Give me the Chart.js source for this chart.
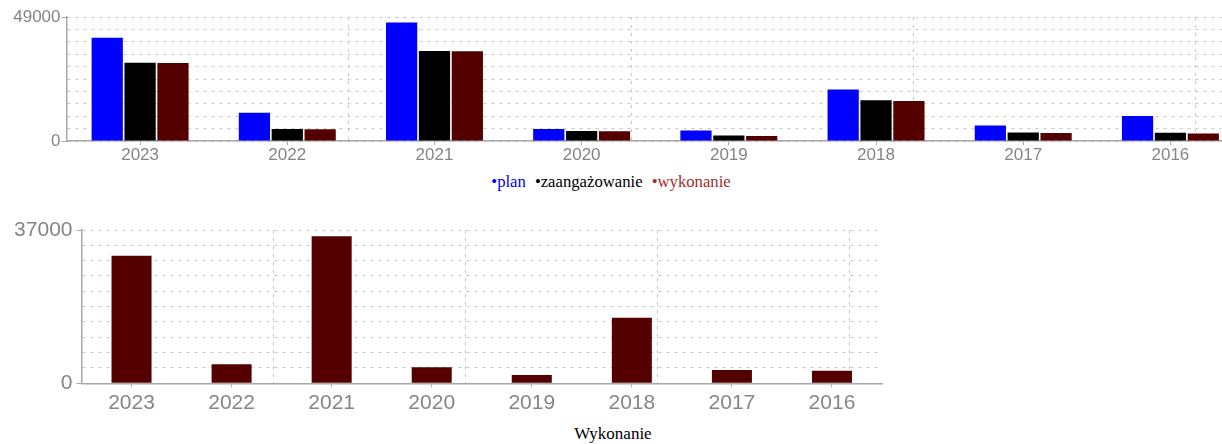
<!DOCTYPE html>
<html>
<head>
<meta charset="utf-8">
<script src="https://cdn.jsdelivr.net/npm/chart.js@4"></script>
<style>
  body { margin: 0; overflow: hidden; background: #fff; width: 1222px; height: 444px; position: relative; }
  canvas { position: absolute; }
  #top { left: 0; top: 0; }
  #bottom { left: 0; top: 200px; }
  #legend {
    position: absolute; left: 0; top: 173px; width: 1222px;
    display: flex; justify-content: center; gap: 9px;
    font: 16.7px "Liberation Serif", serif; line-height: 18px;
  }
  #title {
    position: absolute; left: 2px; top: 425px; width: 1222px; text-align: center;
    font: 17px "Liberation Serif", serif; line-height: 18px; color: #000;
  }
</style>
</head>
<body>
<canvas id="top" width="1250" height="172"></canvas>
<div id="legend">
  <span style="color:#0000ff">•plan</span>
  <span style="color:#000">•zaangażowanie</span>
  <span style="color:#a52a2a">•wykonanie</span>
</div>
<canvas id="bottom" width="900" height="222"></canvas>
<div id="title">Wykonanie</div>
<script>
// values
const years = ['2023', '2022', '2021', '2020', '2019', '2018', '2017', '2016'];
const plan = [40800, 11200, 46800, 4700, 4100, 20400, 6100, 9900];
const zaangazowanie = [30900, 4700, 35600, 4000, 2200, 16100, 3400, 3300];
const wykonanie = [30800, 4600, 35500, 3900, 2000, 15800, 3200, 3000];
const topTicks = [0, 49000];
const bottomTicks = [0, 37000];

Chart.defaults.animation = false;
Chart.defaults.font.family = '"Liberation Sans", Arial, sans-serif';

const gridColor = '#c8c8c8';
const axisColor = '#a8a8a8';
const labelColor = '#858585';

// extra vertical dashed lines, spaced independent of the categories
function vGridAxis() {
    return {
        type: 'linear',
        position: 'top',
        offset: false,
        min: 0,
        max: years.length,
        ticks: { display: false },
        border: { display: false, dash: [3, 5] },
        grid: { color: gridColor, drawTicks: false, offset: false },
        afterBuildTicks: (scale) => {
            scale.ticks = [1, 2, 3, 4].map(i => ({ value: i * 1.918 }));
        },
        afterFit: (scale) => { scale.height = 0; }
    };
}

function makeChart(id, datasets, ticks, opts) {
    const max = ticks[ticks.length - 1];
    return new Chart(document.getElementById(id), {
        type: 'bar',
        data: { labels: years, datasets: datasets },
        options: {
            responsive: false,
            events: [],
            layout: { padding: opts.padding },
            plugins: { legend: { display: false }, tooltip: { enabled: false } },
            datasets: { bar: { categoryPercentage: opts.catPct, barPercentage: opts.barPct } },
            scales: {
                x: {
                    grid: { display: true, drawOnChartArea: false, offset: false, tickLength: 4, tickColor: axisColor },
                    border: { color: axisColor, width: 1.5 },
                    ticks: { color: labelColor, font: { size: opts.fontSize }, padding: opts.xPad, maxRotation: 0, autoSkip: false },
                    afterFit: (scale) => { scale.height = opts.xHeight; }
                },
                xg: vGridAxis(),
                y: {
                    min: 0,
                    max: max,
                    grid: {
                        color: gridColor,
                        tickLength: 5,
                        tickColor: (c) => (c.tick && ticks.includes(c.tick.value)) ? axisColor : 'transparent'
                    },
                    border: { color: axisColor, width: 1.5, dash: [3, 5] },
                    ticks: {
                        autoSkip: false,
                        color: labelColor,
                        font: { size: opts.fontSize },
                        padding: opts.yPad,
                        callback: (v) => ticks.includes(v) ? String(v) : ''
                    },
                    afterBuildTicks: (scale) => {
                        scale.ticks = Array.from({ length: 11 }, (_, i) => ({ value: i * max / 10 }));
                    },
                    afterFit: (scale) => { scale.width = opts.yWidth; }
                }
            }
        }
    });
}

makeChart('top', [
    { label: 'plan', data: plan, backgroundColor: '#0000ff' },
    { label: 'zaangażowanie', data: zaangazowanie, backgroundColor: '#000000' },
    { label: 'wykonanie', data: wykonanie, backgroundColor: '#550000' }
], topTicks, {
    padding: { left: 0, top: 17, right: 6, bottom: 0 },
    catPct: 0.67, barPct: 0.95,
    fontSize: 17, xPad: 0, yPad: 1, xHeight: 31, yWidth: 66.5
});

makeChart('bottom', [
    { label: 'wykonanie', data: wykonanie, backgroundColor: '#550000' }
], bottomTicks, {
    padding: { left: 0, top: 30, right: 18, bottom: 0 },
    catPct: 1, barPct: 0.4,
    fontSize: 21, xPad: 3, yPad: 4, xHeight: 38.7, yWidth: 81.5
});
</script>
</body>
</html>
